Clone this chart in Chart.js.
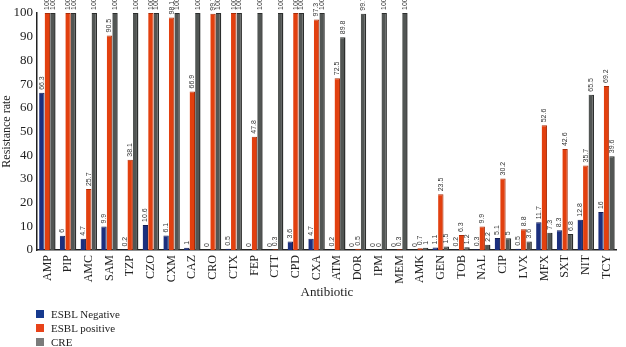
<!DOCTYPE html>
<html>
<head>
<meta charset="utf-8">
<script src="https://cdn.jsdelivr.net/npm/chart.js@4/dist/chart.umd.min.js"></script>
<style>
  html, body { margin: 0; padding: 0; background: #fff; }
  #wrap { position: relative; width: 626px; height: 347px; }
  canvas { position: absolute; left: 0; top: 0; }
  .legend { position: absolute; left: 36px; top: 307px; font-family: "Liberation Serif", serif; font-size: 11px; color: #222; }
  .legend div { height: 14px; line-height: 14px; white-space: nowrap; }
  .legend span.sw { display: inline-block; width: 8px; height: 8px; margin-right: 7px; vertical-align: 0px; }
</style>
</head>
<body>
<div id="wrap">
  <canvas id="c" width="626" height="347"></canvas>
  <div class="legend" id="legend"></div>
</div>
<script>
const categories = ["AMP","PIP","AMC","SAM","TZP","CZO","CXM","CAZ","CRO","CTX","FEP","CTT","CPD","CXA","ATM","DOR","IPM","MEM","AMK","GEN","TOB","NAL","CIP","LVX","MFX","SXT","NIT","TCY"];
const esblNegative = [66.3,6,4.7,9.9,0.2,10.6,6.1,1,0,0.5,0,0,3.6,4.7,0.2,0,0,0,0,1.1,0.2,0.3,5.1,0.5,11.7,8.3,12.8,16];
const esblPositive = [100,100,25.7,90.5,38.1,100,98.1,66.9,99.7,100,47.8,0.3,100,97.3,72.5,0.5,0,0.3,0.7,23.5,6.3,9.9,30.2,8.8,52.6,42.6,35.7,69.2];
const cre = [100,100,100,100,100,100,100,100,100,100,100,100,100,100,89.8,99.7,100,100,1,1.5,1.2,2.2,5,3.6,7.3,6.8,65.5,39.6];
const seriesNames = ["ESBL Negative","ESBL positive","CRE"];
const yTicks = [0,10,20,30,40,50,60,70,80,90,100];

const barColors = ["#1b2f7e", "#e2400f", "#525654"];
const borderColors = ["#101c52", "#a82c08", "#2c2e2d"];
const legendColors = ["#173a8e", "#e8431a", "#7b7b7b"];

const legendEl = document.getElementById('legend');
seriesNames.forEach((n, i) => {
  const d = document.createElement('div');
  const s = document.createElement('span');
  s.className = 'sw';
  s.style.background = legendColors[i];
  d.appendChild(s);
  d.appendChild(document.createTextNode(n));
  legendEl.appendChild(d);
});

const valueLabels = {
  id: 'valueLabels',
  afterDatasetsDraw(chart) {
    const ctx = chart.ctx;
    ctx.save();
    ctx.font = '7px "Liberation Sans", Arial, sans-serif';
    ctx.fillStyle = '#333';
    ctx.textAlign = 'left';
    ctx.textBaseline = 'middle';
    chart.data.datasets.forEach((ds, di) => {
      const meta = chart.getDatasetMeta(di);
      meta.data.forEach((bar, i) => {
        const v = ds.data[i];
        ctx.save();
        ctx.translate(bar.x, bar.y - 3);
        ctx.rotate(-Math.PI / 2);
        ctx.fillText(String(v), 0, 0);
        ctx.restore();
      });
    });
    ctx.restore();
  }
};

new Chart(document.getElementById('c'), {
  type: 'bar',
  data: {
    labels: categories,
    datasets: [
      { label: seriesNames[0], data: esblNegative, backgroundColor: barColors[0], borderColor: borderColors[0], borderWidth: {right: 1, top: 1}, borderSkipped: 'bottom' },
      { label: seriesNames[1], data: esblPositive, backgroundColor: barColors[1], borderColor: borderColors[1], borderWidth: {right: 1, top: 1}, borderSkipped: 'bottom' },
      { label: seriesNames[2], data: cre, backgroundColor: barColors[2], borderColor: borderColors[2], borderWidth: {right: 1.5, top: 1}, borderSkipped: 'bottom' }
    ]
  },
  options: {
    responsive: false,
    animation: false,
    devicePixelRatio: 1,
    layout: { padding: { top: 13, right: 7, bottom: 47, left: 0 } },
    datasets: { bar: { categoryPercentage: 0.8, barPercentage: 0.98 } },
    plugins: { legend: { display: false }, tooltip: { enabled: false } },
    scales: {
      x: {
        grid: { display: false, drawTicks: false },
        border: { color: '#222', width: 1.5 },
        ticks: { minRotation: 90, maxRotation: 90, autoSkip: false, padding: 5, color: '#222', font: { family: '"Liberation Serif", serif', size: 12 } },
        title: { display: true, text: 'Antibiotic', color: '#222', padding: 0, font: { family: '"Liberation Serif", serif', size: 13 } },
        afterFit(s) { s.height = 50; }
      },
      y: {
        min: 0, max: 100,
        afterBuildTicks(s) { s.ticks = yTicks.map(v => ({ value: v })); },
        grid: { display: false, drawTicks: false },
        border: { color: '#222', width: 1.5 },
        ticks: { padding: 4, color: '#222', font: { family: '"Liberation Serif", serif', size: 13 } },
        title: { display: true, text: 'Resistance rate', color: '#222', padding: 0, font: { family: '"Liberation Serif", serif', size: 12 } },
        afterFit(s) { s.width = 37; }
      }
    }
  },
  plugins: [valueLabels]
});
</script>
</body>
</html>
